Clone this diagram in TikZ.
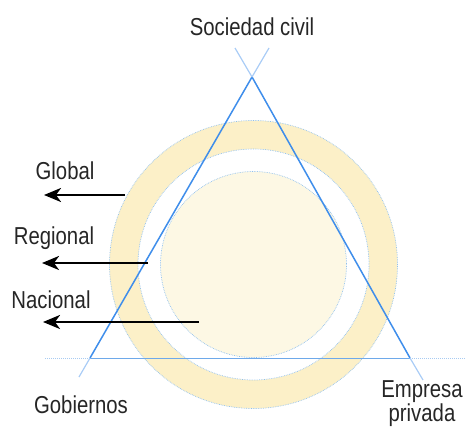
\documentclass[tikz,border=0pt]{standalone}
\usepackage{fontspec}
\setmainfont[FakeStretch=0.83]{Liberation Sans}
\usetikzlibrary{arrows.meta}
\definecolor{ringfill}{HTML}{FCF0C8}
\definecolor{diskfill}{HTML}{FDF8E4}
\definecolor{edgeblue}{HTML}{8FC0EE}
\definecolor{triblue}{HTML}{3F8EEB}
\definecolor{baseblue}{HTML}{6EA9EA}
\tikzset{
  lbl/.style={font=\fontsize{24.5}{26}\selectfont, text=black!85, inner sep=0pt, anchor=base},
  edge/.style={draw=edgeblue, line width=0.7pt, densely dotted},
  tri/.style={draw=triblue, line width=1.5pt},
  triext/.style={draw=triblue!45, line width=1.2pt},
  arr/.style={draw=black, line width=2.6pt, -{Stealth[length=17pt,width=14pt,inset=5pt]}}
}
\begin{document}
\begin{tikzpicture}[x=1pt,y=-1pt]
\useasboundingbox (0,0) rectangle (466,428);
% circles
\coordinate (c) at (253.5,264.5);
\fill[ringfill] (c) circle (144);
\fill[white] (c) circle (115.5);
\fill[diskfill] (c) circle (93);
\draw[edge] (c) circle (144);
\draw[edge] (c) circle (115.5);
\draw[edge] (c) circle (93);
% triangle
\coordinate (apex) at (252,77);
\coordinate (bl) at (90,358);
\coordinate (br) at (410,358);
\coordinate (lu) at (269,48);
\coordinate (ru) at (235,48);
\coordinate (ld) at (79,377);
\coordinate (rd) at (423,380);
\coordinate (b0) at (45,358);
\coordinate (b1) at (466,358);
\draw[draw=baseblue!60, line width=1pt, densely dotted] (b0) -- (bl);
\draw[draw=baseblue, line width=1pt] (bl) -- (br);
\draw[draw=baseblue!60, line width=1pt, densely dotted] (br) -- (b1);
\draw[tri] (bl) -- (apex) -- (br);
\draw[triext] (apex) -- (lu);
\draw[triext] (apex) -- (ru);
\draw[triext] (bl) -- (ld);
\draw[triext] (br) -- (rd);
% labels
\node[lbl] (soc) at (252,36) {Sociedad civil};
\node[lbl] (glo) at (65,179) {Global};
\node[lbl] (reg) at (54,244) {Regional};
\node[lbl] (nac) at (51,308) {Nacional};
\node[lbl] (gob) at (81,413) {Gobiernos};
\node[lbl, font=\fontsize{24.5}{21}\selectfont, align=center] (emp) at (422,421) {Empresa\\privada};
% arrows
\coordinate (g0) at (125,195); \coordinate (g1) at (44,195);
\coordinate (r0) at (148,263); \coordinate (r1) at (42,263);
\coordinate (n0) at (199,322); \coordinate (n1) at (43,322);
\draw[arr] (g0) -- (g1);
\draw[arr] (r0) -- (r1);
\draw[arr] (n0) -- (n1);
\end{tikzpicture}
\end{document}
